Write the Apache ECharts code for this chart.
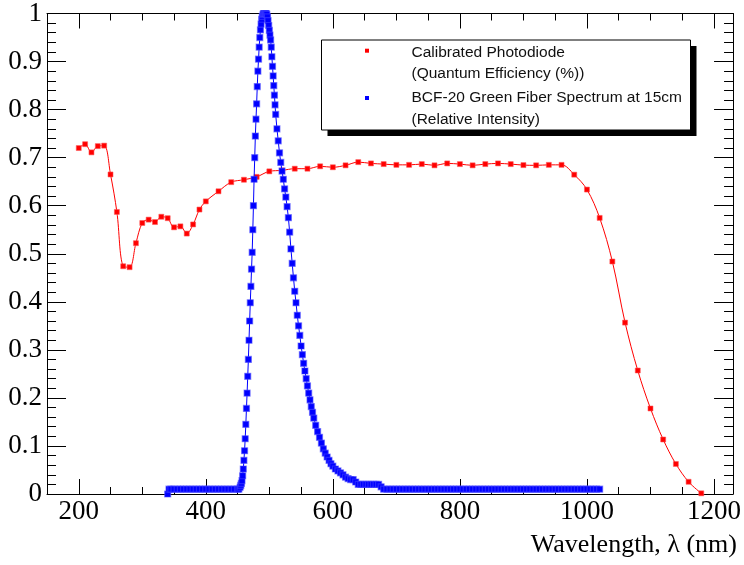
<!DOCTYPE html>
<html>
<head>
<meta charset="utf-8">
<script src="https://cdn.jsdelivr.net/npm/echarts@6/dist/echarts.min.js"></script>
<style>html,body{margin:0;padding:0;background:#fff;}#c{width:744px;height:565px;}</style>
</head>
<body>
<div id="c"></div>
<script>
// ---- Data ----
const photoWavelength = [200,210,220,230,240,250,260,270,280,290,300,310,320,330,340,350,360,370,380,390,400,
  420,440,460,480,500,520,540,560,580,600,620,640,660,680,700,720,740,760,780,800,820,840,860,880,900,920,940,960,
  980,1000,1020,1040,1060,1080,1100,1120,1140,1160,1180];
const photoQE = [0.720,0.728,0.711,0.724,0.725,0.665,0.587,0.474,0.472,0.522,0.564,0.571,0.566,0.577,0.574,0.555,0.557,0.542,0.561,0.592,0.609,
  0.630,0.649,0.654,0.660,0.6715,0.6735,0.677,0.677,0.682,0.680,0.684,0.6907,0.688,0.6866,0.685,0.685,0.6866,0.684,0.688,0.6866,0.684,0.6866,0.688,0.6866,0.6845,0.684,0.685,0.685,
  0.6646,0.6336,0.5746,0.4839,0.3567,0.257,0.178,0.1134,0.0625,0.0254,0.0014];

const fiberWavelength = [340,342,345,350,355,360,365,370,375,380,385,390,395,400,405,410,415,420,425,430,435,440,445,450,452,454,
  455,456,457,458,459,460,461,462,463,464,465,466,467,468,469,470,471,472,473,474,475,476,477,478,479,480,
  481,482,483,484,485,486,487,488,489,490,491,492,493,494,495,496,497,498,499,500,
  501,502,503,504,505,506,507,508,509,510,
  512,514,516,518,520,522,524,526,528,530,532,534,536,538,540,542,544,546,548,550,552,554,556,558,560,562,564,566,568,570,
  573,576,579,582,585,588,591,594,597,
  600,604,608,612,616,620,624,628,632,636,640,644,648,652,656,660,664,668,672,676,
  680,685,690,695,700,705,710,715,720,725,730,735,740,745,750,755,760,765,770,775,780,785,790,795,800,
  805,810,815,820,825,830,835,840,845,850,855,860,865,870,875,880,885,890,895,900,
  905,910,915,920,925,930,935,940,945,950,955,960,965,970,975,980,985,990,995,1000,1005,1010,1015,1020];
const fiberIntensity = [0,0.01,0.01,0.01,0.01,0.01,0.01,0.01,0.01,0.01,0.01,0.01,0.01,0.01,0.01,0.01,0.01,0.01,0.01,0.01,0.01,0.01,0.01,0.01,0.01,0.014,
  0.018,0.022,0.028,0.038,0.052,0.07,0.09,0.115,0.145,0.178,0.21,0.245,0.28,0.32,0.36,0.398,0.432,0.468,0.503,0.55,0.60,0.655,0.70,0.745,0.78,0.812,
  0.848,0.88,0.905,0.93,0.95,0.966,0.978,0.988,0.994,0.998,1.0,1.0,1.0,1.0,1.0,0.998,0.993,0.985,0.975,0.965,
  0.955,0.945,0.93,0.91,0.89,0.87,0.85,0.83,0.81,0.79,
  0.76,0.735,0.71,0.69,0.672,0.655,0.635,0.618,0.598,0.575,0.545,0.51,0.48,0.45,0.422,0.398,0.372,0.35,0.33,0.308,0.29,0.272,0.256,0.24,0.225,0.21,0.196,0.182,0.17,0.158,
  0.143,0.13,0.118,0.106,0.094,0.085,0.077,0.07,0.063,
  0.058,0.052,0.048,0.044,0.04,0.035,0.032,0.03,0.03,0.025,0.02,0.02,0.02,0.02,0.02,0.02,0.02,0.02,0.02,0.015,
  0.01,0.01,0.01,0.01,0.01,0.01,0.01,0.01,0.01,0.01,0.01,0.01,0.01,0.01,0.01,0.01,0.01,0.01,0.01,0.01,0.01,0.01,0.01,0.01,0.01,
  0.01,0.01,0.01,0.01,0.01,0.01,0.01,0.01,0.01,0.01,0.01,0.01,0.01,0.01,0.01,0.01,0.01,0.01,0.01,0.01,
  0.01,0.01,0.01,0.01,0.01,0.01,0.01,0.01,0.01,0.01,0.01,0.01,0.01,0.01,0.01,0.01,0.01,0.01,0.01,0.01,0.01,0.01,0.01,0.01];

// ---- Axis ticks / labels ----
const xMajorTicks = [200,400,600,800,1000,1200];
const xMinorTicks = [150,250,300,350,450,500,550,650,700,750,850,900,950,1050,1100,1150];
const xAxisTitle = 'Wavelength, \u03bb (nm)';
const legendLines = ['Calibrated Photodiode','(Quantum Efficiency (%))','BCF-20 Green Fiber Spectrum at 15cm','(Relative Intensity)'];

const serif = '"Liberation Serif","DejaVu Serif",serif';
const sans = '"Liberation Sans",Arial,sans-serif';

function pairs(xs, ys){ return xs.map((x,i)=>[x, ys[i]]); }

function xAx(pos, ticks, len, withLine, withLabel){
  return {
    type:'value', gridIndex:0, position:pos, min:150, max:1230,
    axisLine:{show:withLine, onZero:false, lineStyle:{color:'#000', width:1}},
    axisTick:{show:true, inside:true, length:len, customValues:ticks, lineStyle:{color:'#000', width:1}},
    axisLabel:{show:withLabel, customValues:ticks, margin:4, color:'#000', fontFamily:serif, fontSize:27,
      formatter:function(v){ return String(v); }},
    splitLine:{show:false}
  };
}
function yAx(pos, withLabel){
  return {
    type:'value', gridIndex:0, position:pos, min:0, max:1, interval:0.1,
    axisLine:{show:true, onZero:false, lineStyle:{color:'#000', width:1}},
    axisTick:{show:true, inside:true, length:19, lineStyle:{color:'#000', width:1}},
    minorTick:{show:true, splitNumber:5, length:9, lineStyle:{color:'#000', width:1}},
    axisLabel:{show:withLabel, margin:5, color:'#000', fontFamily:serif, fontSize:27},
    splitLine:{show:false}, minorSplitLine:{show:false}
  };
}

const chart = echarts.init(document.getElementById('c'), null, {renderer:'canvas'});
chart.setOption({
  animation:false,
  backgroundColor:'#fff',
  grid:{left:47, right:8, top:9, bottom:71, containLabel:false},
  xAxis:[
    xAx('bottom', xMajorTicks, 15, true, true),
    xAx('bottom', xMinorTicks, 7, false, false),
    xAx('top', xMajorTicks, 15, true, false),
    xAx('top', xMinorTicks, 7, false, false)
  ],
  yAxis:[ yAx('left', true), yAx('right', false) ],
  series:[
    {
      name:'photodiode', type:'line', xAxisIndex:0, yAxisIndex:0,
      data:pairs(photoWavelength, photoQE),
      smooth:0.35, showSymbol:true, showAllSymbol:true,
      symbol:'rect', symbolSize:5,
      lineStyle:{color:'#ff0000', width:1},
      itemStyle:{color:'#ff0000', borderColor:'rgba(255,90,90,0.55)', borderWidth:1},
      z:2
    },
    {
      name:'fiber', type:'line', xAxisIndex:0, yAxisIndex:0,
      data:pairs(fiberWavelength, fiberIntensity),
      showSymbol:true, showAllSymbol:true,
      symbol:'rect', symbolSize:6,
      lineStyle:{color:'#0000ff', width:1},
      itemStyle:{color:'#0000ff', borderColor:'rgba(70,70,255,0.55)', borderWidth:1.2},
      clip:false,
      z:3
    }
  ],
  graphic:[
    {type:'rect', shape:{x:327.5, y:46, width:369, height:90}, style:{fill:'#000'}, z:10},
    {type:'rect', shape:{x:321.5, y:40, width:369, height:90}, style:{fill:'#fff', stroke:'#000', lineWidth:1}, z:11},
    {type:'rect', shape:{x:365, y:48.7, width:4, height:4}, style:{fill:'#ff0000'}, z:12},
    {type:'rect', shape:{x:365, y:96, width:4, height:4}, style:{fill:'#0000ff'}, z:12},
    {type:'text', x:411.5, y:53, style:{text:legendLines[0], font:'15.5px '+sans, fill:'#111', textVerticalAlign:'middle'}, z:12},
    {type:'text', x:411.5, y:74, style:{text:legendLines[1], font:'15.5px '+sans, fill:'#111', textVerticalAlign:'middle'}, z:12},
    {type:'text', x:411.5, y:98, style:{text:legendLines[2], font:'15.5px '+sans, fill:'#111', textVerticalAlign:'middle'}, z:12},
    {type:'text', x:411.5, y:120, style:{text:legendLines[3], font:'15.5px '+sans, fill:'#111', textVerticalAlign:'middle'}, z:12},
    {type:'text', x:737, y:545, style:{text:xAxisTitle, font:'26px '+serif, fill:'#000', textAlign:'right', textVerticalAlign:'middle'}, z:12}
  ]
});
</script>
</body>
</html>
